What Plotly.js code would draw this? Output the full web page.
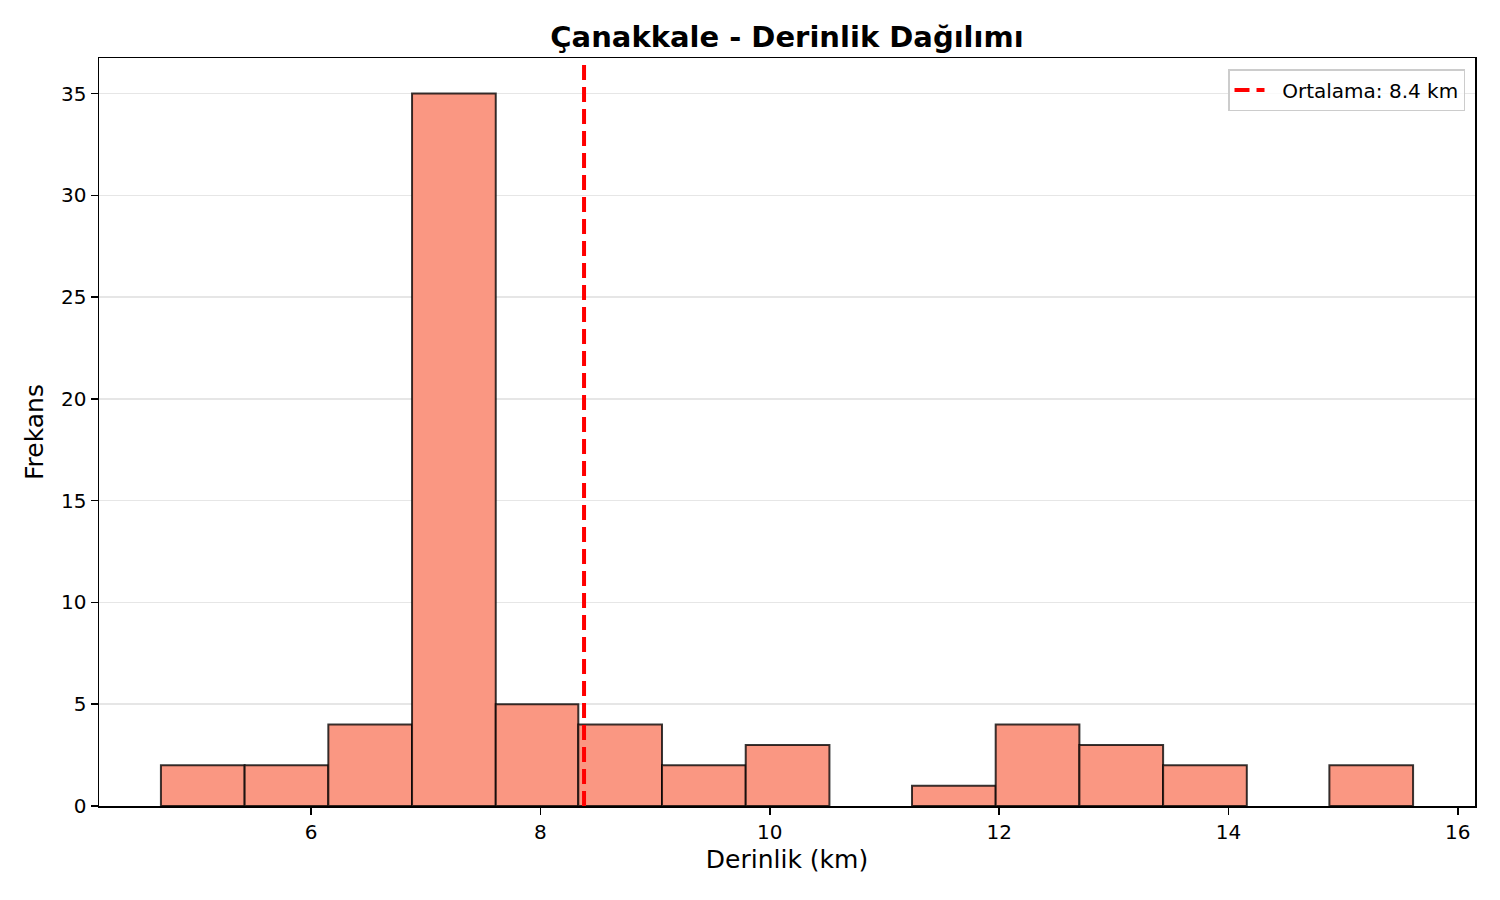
<!DOCTYPE html>
<html>
<head>
<meta charset="utf-8">
<script src="https://cdn.plot.ly/plotly-3.0.1.min.js"></script>
<style>
  html, body { margin: 0; padding: 0; background: #fff; }
  #plot { width: 1500px; height: 900px; }
</style>
</head>
<body>
<div id="plot"></div>
<script>
// histogram bins
const binEdges = [4.69, 5.42, 6.15, 6.88, 7.61, 8.33, 9.06, 9.79, 10.52, 11.24, 11.97, 12.70, 13.43, 14.16, 14.88, 15.61];
const counts = [2, 2, 4, 35, 5, 4, 2, 3, 0, 1, 4, 3, 2, 0, 2];
const meanDepth = 8.38;
const xTicks = [6, 8, 10, 12, 14, 16];
const yTicks = [0, 5, 10, 15, 20, 25, 30, 35];

// empty bins are left out so no edge gets drawn on the axis
const idx = counts.map((c, i) => i).filter(i => counts[i] > 0);
const centers = idx.map(i => (binEdges[i] + binEdges[i + 1]) / 2);
const widths = idx.map(i => binEdges[i + 1] - binEdges[i]);

const bars = {
  type: 'bar',
  x: centers,
  y: idx.map(i => counts[i]),
  width: widths,
  showlegend: false,
  hoverinfo: 'x+y',
  marker: {
    color: 'rgb(250, 151, 130)',
    line: { color: 'rgba(0, 0, 0, 0.78)', width: 2 },
  },
};

// a little gap between the line sample and the label, like matplotlib
const meanLine = {
  type: 'scatter',
  mode: 'lines',
  x: [meanDepth, meanDepth],
  y: [0, 1],
  yaxis: 'y2',
  name: '\u00a0\u00a0Ortalama: ' + meanDepth.toFixed(1) + ' km',
  line: { color: 'red', width: 4, dash: '15px,7px' },
};

const font = 'DejaVu Sans, sans-serif';

const layout = {
  width: 1500,
  height: 900,
  paper_bgcolor: '#fff',
  plot_bgcolor: '#fff',
  font: { family: font, color: '#000', size: 20 },
  margin: { l: 99, r: 25, t: 58, b: 94 },
  title: {
    text: '<b>Çanakkale - Derinlik Dağılımı</b>',
    font: { family: font, size: 29, color: '#000' },
    xref: 'paper', x: 0.5, xanchor: 'center',
    y: 1 - 37 / 900, yanchor: 'middle',
  },
  xaxis: {
    range: [4.15, 16.15],
    tickvals: xTicks,
    ticks: 'outside', ticklen: 7, tickwidth: 1.5, tickcolor: '#000',
    showline: true, linecolor: '#000', linewidth: 1.5, mirror: true,
    showgrid: false, zeroline: false,
    tickfont: { size: 20 },
    title: { text: 'Derinlik (km)', font: { size: 25 }, standoff: 8 },
  },
  yaxis: {
    range: [0, 36.75],
    tickvals: yTicks,
    ticks: 'outside', ticklen: 7, tickwidth: 1.5, tickcolor: '#000',
    showline: true, linecolor: '#000', linewidth: 1.5, mirror: true,
    showgrid: true, gridcolor: '#e6e6e6', gridwidth: 1.5,
    zeroline: false,
    layer: 'above traces',
    tickfont: { size: 20 },
    title: { text: 'Frekans', font: { size: 25 }, standoff: 10 },
  },
  yaxis2: {
    overlaying: 'y',
    range: [0, 1],
    visible: false,
    fixedrange: true,
  },
  legend: {
    x: 1 - 10 / 1376, xanchor: 'right',
    y: 1 - 11 / 748, yanchor: 'top',
    bgcolor: 'rgba(255,255,255,0.8)',
    bordercolor: '#cccccc', borderwidth: 1.5,
    font: { size: 20 },
  },
  bargap: 0,
};

Plotly.newPlot('plot', [bars, meanLine], layout, { displayModeBar: false, staticPlot: true });
</script>
</body>
</html>
